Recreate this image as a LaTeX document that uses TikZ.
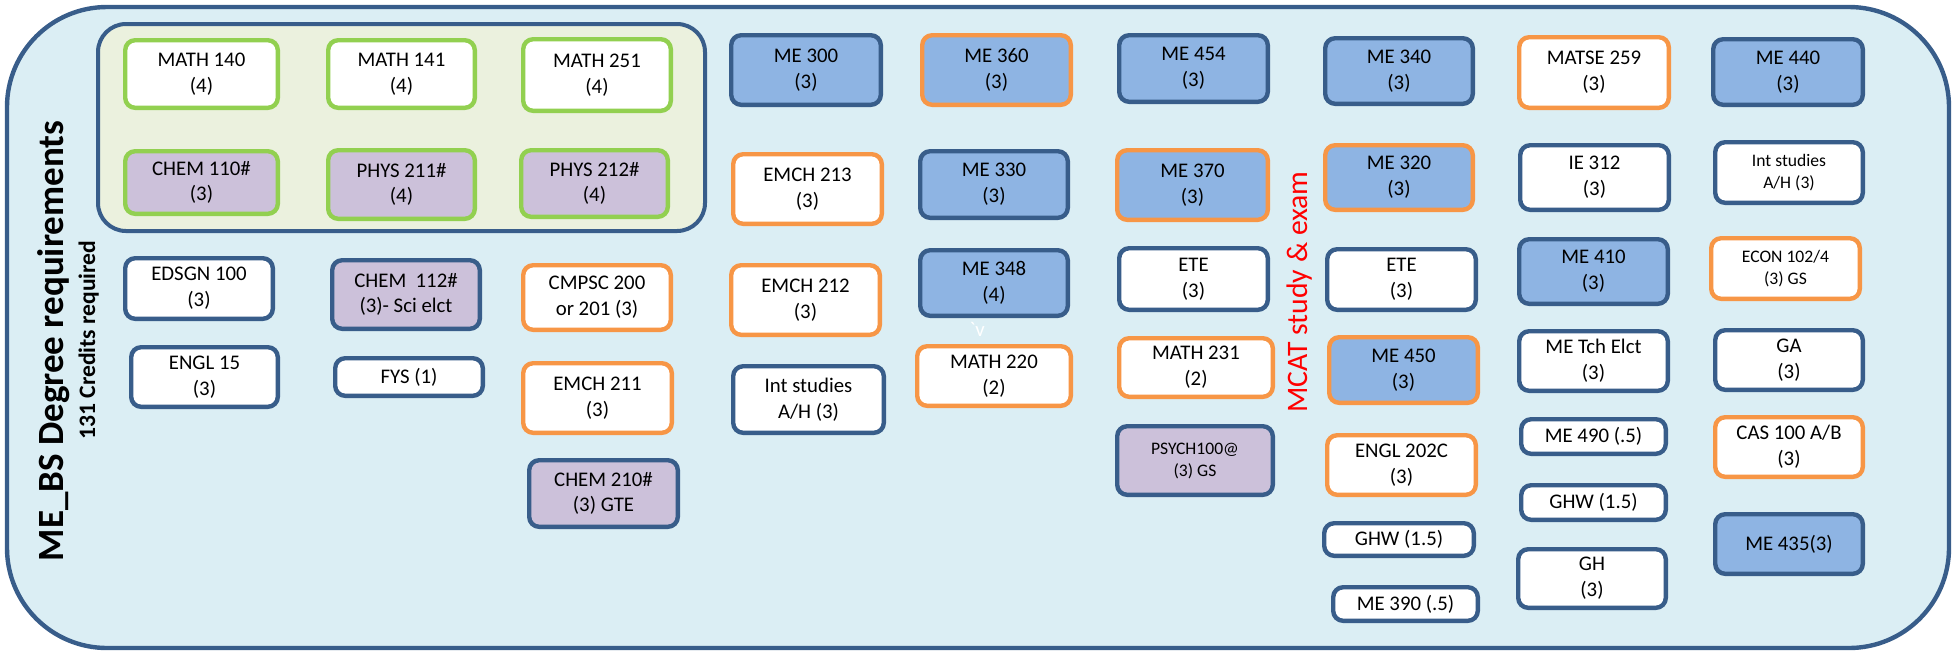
\documentclass[tikz,border=0pt]{standalone}
\usepackage{fontspec}
\setmainfont{Carlito}
\definecolor{bgblue}{RGB}{219,238,244}
\definecolor{dkblue}{RGB}{56,93,138}
\definecolor{olivebg}{RGB}{235,241,222}
\definecolor{grn}{RGB}{146,208,80}
\definecolor{orng}{RGB}{247,150,70}
\definecolor{medblue}{RGB}{142,180,227}
\definecolor{purp}{RGB}{204,193,218}
\newcommand\crsbox[7]{%
  \pgfmathsetmacro\crsw{(#4-#2-4.4)*0.5}%
  \pgfmathsetmacro\crsh{(#5-#3-4.4)*0.5}%
  \node[course,#6,minimum width=\crsw pt,minimum height=\crsh pt] (#1) at ({(#2+#4)/2},{(#3+#5)/2}) {#7};%
}
\begin{document}
\begin{tikzpicture}[x=0.5pt,y=-0.5pt,
  course/.style={rounded corners=5pt, line width=2.2pt, inner sep=0pt, align=center,
    font=\fontsize{10.4}{12.9}\selectfont},
  smalltext/.style={font=\fontsize{8.8}{11}\selectfont},
  dbw/.style={draw=dkblue, fill=white},
  dbb/.style={draw=dkblue, fill=medblue},
  dbp/.style={draw=dkblue, fill=purp},
  orw/.style={draw=orng, fill=white},
  orb/.style={draw=orng, fill=medblue},
  grw/.style={draw=grn, fill=white},
  grp/.style={draw=grn, fill=purp},
  vlabel/.style={rotate=90, anchor=base, inner sep=0pt}]
\useasboundingbox (0,0) rectangle (1955,655);
% outer frame
\draw[draw=dkblue, fill=bgblue, line width=2.2pt, rounded corners=50pt] (7,7) rectangle (1949,648);
% first-year group
\draw[draw=dkblue, fill=olivebg, line width=2pt, rounded corners=14pt] (98,24) rectangle (705,231);
% titles
\node[vlabel, font=\bfseries\fontsize{18.5}{22}\selectfont] (title) at (63,341) {ME\_BS Degree requirements};
\node[vlabel, font=\bfseries\fontsize{11.8}{14}\selectfont] (credits) at (95,340) {131 Credits required};
\node[vlabel, text=red, font=\fontsize{14.85}{18}\selectfont] (mcat) at (1307,292) {MCAT study \& exam};
\node[anchor=base, inner sep=0pt, text=white, font=\fontsize{10.4}{12}\selectfont] (tick) at (977,336) {\textasciigrave v};
% group boxes
\crsbox{m140}{123}{38}{280}{110}{grw}{MATH 140\\(4)}
\crsbox{m141}{326}{38}{477}{110}{grw}{MATH 141\\(4)}
\crsbox{m251}{521}{37}{673}{113}{grw}{MATH 251\\(4)}
\crsbox{c110}{123}{149}{280}{216}{grp}{CHEM 110\#\\(3)}
\crsbox{p211}{326}{148}{477}{221}{grp}{PHYS 211\#\\(4)}
\crsbox{p212}{519}{148}{670}{219}{grp}{PHYS 212\#\\(4)}
% columns 1-3 below
\crsbox{edsgn}{123}{256}{275}{321}{dbw}{EDSGN 100\\(3)}
\crsbox{c112}{330}{258}{482}{331}{dbp}{CHEM\ \ 112\#\\(3)- Sci elct}
\crsbox{cmpsc}{521}{263}{673}{332}{orw}{CMPSC 200\\or 201 (3)}
\crsbox{engl15}{129}{345}{280}{409}{dbw}{ENGL 15\\(3)}
\crsbox{fys}{333}{356}{485}{398}{dbw}{FYS (1)}
\crsbox{e211}{521}{361}{674}{435}{orw}{EMCH 211\\(3)}
\crsbox{c210}{527}{458}{680}{529}{dbp}{CHEM 210\#\\(3) GTE}
% column 4
\crsbox{me300}{729}{33}{883}{107}{dbb}{ME 300\\(3)}
\crsbox{e213}{731}{152}{884}{226}{orw}{EMCH 213\\(3)}
\crsbox{e212}{729}{263}{882}{337}{orw}{EMCH 212\\(3)}
\crsbox{ints1}{731}{364}{886}{435}{dbw}{Int studies\\A/H (3)}
% column 5
\crsbox{me360}{920}{33}{1073}{107}{orb}{ME 360\\(3)}
\crsbox{me330}{918}{149}{1070}{220}{dbb}{ME 330\\(3)}
\crsbox{me348}{918}{248}{1070}{318}{dbb}{ME 348\\(4)}
\crsbox{m220}{915}{344}{1073}{408}{orw}{MATH 220\\(2)}
% column 6
\crsbox{me454}{1117}{33}{1270}{104}{dbb}{ME 454\\(3)}
\crsbox{me370}{1115}{148}{1270}{222}{orb}{ME 370\\(3)}
\crsbox{ete1}{1117}{246}{1270}{312}{dbw}{ETE\\(3)}
\crsbox{m231}{1117}{336}{1275}{399}{orw}{MATH 231\\(2)}
\crsbox{psych}{1115}{424}{1275}{497}{dbp,smalltext}{PSYCH100@\\(3) GS}
% column 7
\crsbox{me340}{1323}{36}{1475}{106}{dbb}{ME 340\\(3)}
\crsbox{me320}{1323}{143}{1475}{212}{orb}{ME 320\\(3)}
\crsbox{ete2}{1325}{247}{1478}{312}{dbw}{ETE\\(3)}
\crsbox{me450}{1327}{335}{1480}{405}{orb}{ME 450\\(3)}
\crsbox{e202}{1325}{433}{1478}{497}{orw}{ENGL 202C\\(3)}
\crsbox{ghw1}{1322}{521}{1476}{558}{dbw}{GHW (1.5)}
\crsbox{me390}{1331}{585}{1480}{623}{dbw}{ME 390 (.5)}
% column 8
\crsbox{matse}{1517}{35}{1671}{110}{orw}{MATSE 259\\(3)}
\crsbox{ie312}{1518}{143}{1671}{212}{dbw}{IE 312\\(3)}
\crsbox{me410}{1517}{237}{1670}{306}{dbb}{ME 410\\(3)}
\crsbox{metch}{1517}{329}{1670}{393}{dbw}{ME Tch Elct\\(3)}
\crsbox{me490}{1519}{417}{1668}{456}{dbw}{ME 490 (.5)}
\crsbox{ghw2}{1519}{483}{1668}{522}{dbw}{GHW (1.5)}
\crsbox{gh}{1516}{547}{1668}{610}{dbw}{GH\\(3)}
% column 9
\crsbox{me440}{1711}{37}{1865}{107}{dbb}{ME 440\\(3)}
\crsbox{ints2}{1713}{140}{1865}{205}{dbw,smalltext}{Int studies\\A/H (3)}
\crsbox{econ}{1709}{236}{1862}{301}{orw,smalltext}{ECON 102/4\\(3) GS}
\crsbox{ga}{1713}{328}{1865}{392}{dbw}{GA\\(3)}
\crsbox{cas}{1713}{415}{1865}{479}{orw}{CAS 100 A/B\\(3)}
\crsbox{me435}{1713}{512}{1865}{576}{dbb}{ME 435(3)}
\end{tikzpicture}
\end{document}
